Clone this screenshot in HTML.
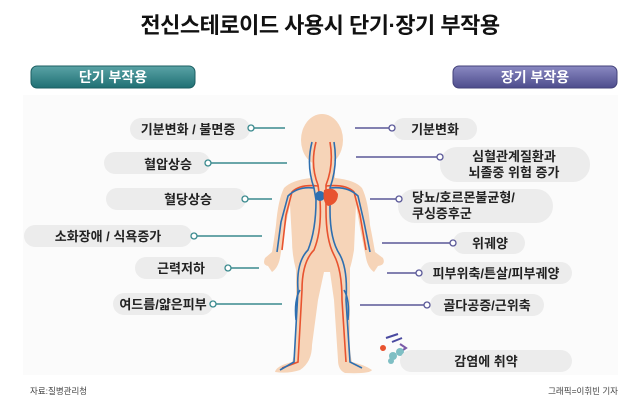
<!DOCTYPE html>
<html><head><meta charset="utf-8"><style>
html,body{margin:0;padding:0;background:#fff;}
body{width:640px;height:407px;overflow:hidden;font-family:"Liberation Sans","Noto Sans CJK KR",sans-serif;}
svg text{font-family:"Liberation Sans","Noto Sans CJK KR",sans-serif;}
</style></head><body>
<svg width="640" height="407" viewBox="0 0 640 407" xmlns="http://www.w3.org/2000/svg">
<defs>
<linearGradient id="tg" x1="0" y1="0" x2="0" y2="1"><stop offset="0" stop-color="#5aa3a6"/><stop offset="1" stop-color="#1f6f73"/></linearGradient>
<linearGradient id="pg" x1="0" y1="0" x2="0" y2="1"><stop offset="0" stop-color="#8a89c2"/><stop offset="1" stop-color="#4d4c8c"/></linearGradient>
</defs>
<rect x="0" y="0" width="640" height="407" fill="#fff"/>
<rect x="23" y="95" width="595" height="280" fill="#fbfbfb"/>
<text x="320" y="33" font-size="22" font-weight="bold" text-anchor="middle" fill="#111" letter-spacing="-0.5">전신스테로이드 사용시 단기·장기 부작용</text>
<rect x="31" y="66" width="164" height="22" rx="6" fill="url(#tg)" stroke="#1b5e62" stroke-width="1"/>
<text x="113" y="82" font-size="14" font-weight="bold" fill="#fff" text-anchor="middle">단기 부작용</text>
<rect x="453" y="66" width="164" height="22" rx="6" fill="url(#pg)" stroke="#43427a" stroke-width="1"/>
<text x="535" y="82" font-size="14" font-weight="bold" fill="#fff" text-anchor="middle">장기 부작용</text>

<g fill="#f6d4b8">
<ellipse cx="322" cy="140" rx="21" ry="26"/>
<path d="M312 160 L334 160 L335 178 Q355 180 362 188 Q368 200 370 225 Q373 240 375 252 L383 258 Q386 265 378 266 L374 272 Q368 268 366 258 L360 228 L356 205 L354 250 Q352 262 350 268 L350 330 Q349 350 352 362 Q365 365 372 370 Q370 374 345 373 Q338 370 338 360 L334 300 L330 272 L324 272 L318 300 L312 345 Q312 362 300 370 Q288 374 275 372 Q276 366 292 362 Q296 350 296 330 L296 270 Q292 255 292 240 L290 205 L285 228 L280 258 Q278 268 272 272 L268 266 Q262 265 265 258 L272 252 Q274 240 276 225 Q278 200 284 188 Q292 180 311 178 Z"/>
</g>
<g fill="none" stroke-width="1.6">
<path d="M316 142 Q310 165 318 185 L320 200 Q322 230 314 250 Q302 262 302 290 L298 362 L282 368" stroke="#e8532f"/>
<path d="M330 142 Q334 165 326 185 L326 210 Q326 240 334 255 Q342 270 342 300 L346 362" stroke="#e8532f"/>
<path d="M318 186 Q300 184 292 192 L286 215 L282 250" stroke="#e8532f"/>
<path d="M326 186 Q346 184 354 192 L360 215 L366 250" stroke="#e8532f"/>
<path d="M312 142 Q306 165 314 188 L316 200 Q316 230 308 250 Q296 262 298 290 L294 362 L280 370" stroke="#2e6fb0"/>
<path d="M334 142 Q338 165 330 188 L330 210 Q330 240 340 255 Q348 270 346 300 L350 362 L362 368" stroke="#2e6fb0"/>
<path d="M314 188 Q298 186 288 196 L281 222 L277 252" stroke="#2e6fb0"/>
<path d="M330 188 Q348 186 358 196 L364 222 L370 252" stroke="#2e6fb0"/>
<path d="M300 290 Q294 300 296 320" stroke="#2e6fb0"/>
<path d="M344 290 Q350 300 348 320" stroke="#2e6fb0"/>
</g>
<circle cx="320" cy="196" r="5" fill="#2e6fb0"/>
<path d="M324 190 Q334 186 338 194 Q338 204 328 206 Q322 202 324 190Z" fill="#e8532f"/>

<g>
<path d="M386 338 l12 -4 M392 342 l10 -4" stroke="#4a4aa0" stroke-width="2" fill="none"/>
<path d="M400 344 l6 4 l-6 4" stroke="#7a5aa8" stroke-width="2" fill="none"/>
<circle cx="383" cy="348" r="3" fill="#e8532f"/>
<circle cx="393" cy="356" r="4" fill="#7fbfc4"/><circle cx="400" cy="352" r="4" fill="#7fbfc4"/><circle cx="391" cy="361" r="3" fill="#7fbfc4"/>
</g>

<g stroke="#3a8a8e" stroke-width="1.5" fill="none">
<line x1="254" y1="128" x2="285" y2="128"/>
<line x1="211" y1="163" x2="287" y2="163"/>
<line x1="248" y1="199" x2="272" y2="199"/>
<line x1="197" y1="236" x2="262" y2="236"/>
<line x1="231" y1="268" x2="259" y2="268"/>
<line x1="216" y1="304" x2="282" y2="304"/>
</g>
<g fill="#ececec">
<rect x="130" y="118" width="120" height="22" rx="11"/>
<rect x="104" y="152" width="106" height="22" rx="11"/>
<rect x="106" y="188" width="140" height="22" rx="11"/>
<rect x="24" y="225" width="168" height="22" rx="11"/>
<rect x="135" y="257" width="93" height="22" rx="11"/>
<rect x="113" y="293" width="100" height="22" rx="11"/>
<rect x="393" y="118" width="84" height="22" rx="11"/>
<rect x="440" y="147" width="150" height="35" rx="17"/>
<rect x="398" y="189" width="155" height="34" rx="17"/>
<rect x="453" y="232" width="72" height="22" rx="11"/>
<rect x="420" y="262" width="152" height="22" rx="11"/>
<rect x="430" y="294" width="114" height="22" rx="11"/>
<rect x="400" y="350" width="172" height="22" rx="11"/>
</g>
<g fill="#fff" stroke="#3a8a8e" stroke-width="1.3">
<circle cx="251" cy="128" r="3"/><circle cx="208" cy="163" r="3"/><circle cx="245" cy="199" r="3"/><circle cx="194" cy="236" r="3"/><circle cx="228" cy="268" r="3"/><circle cx="213" cy="304" r="3"/>
</g>
<g stroke="#5a5898" stroke-width="1.5" fill="none">
<line x1="355" y1="128" x2="389" y2="128"/>
<line x1="356" y1="157" x2="437" y2="157"/>
<line x1="370" y1="199" x2="396" y2="199"/>
<line x1="382" y1="243" x2="450" y2="243"/>
<line x1="387" y1="273" x2="416" y2="273"/>
<line x1="360" y1="305" x2="424" y2="305"/>
</g>
<g fill="#fff" stroke="#5a5898" stroke-width="1.3">
<circle cx="392" cy="128" r="3"/><circle cx="440" cy="157" r="3"/><circle cx="399" cy="199" r="3"/><circle cx="453" cy="243" r="3"/><circle cx="419" cy="273" r="3"/><circle cx="427" cy="305" r="3"/>
</g>
<g font-size="13" font-weight="bold" fill="#222" text-anchor="middle">
<text x="188" y="134">기분변화 / 불면증</text>
<text x="168" y="169">혈압상승</text>
<text x="188" y="204">혈당상승</text>
<text x="108" y="241">소화장애 / 식욕증가</text>
<text x="181" y="273">근력저하</text>
<text x="163" y="309">여드름/얇은피부</text>
<text x="435" y="134">기분변화</text>
<text x="514" y="161">심혈관계질환과</text>
<text x="514" y="177">뇌졸중 위험 증가</text>
<text x="412" y="202" text-anchor="start">당뇨/호르몬불균형/</text>
<text x="412" y="218" text-anchor="start">쿠싱증후군</text>
<text x="490" y="248">위궤양</text>
<text x="496" y="278">피부위축/튼살/피부궤양</text>
<text x="487" y="310">골다공증/근위축</text>
<text x="486" y="366">감염에 취약</text>
</g>
<text x="30" y="394" font-size="8.5" fill="#444">자료:질병관리청</text>
<text x="618" y="394" font-size="8.5" fill="#444" text-anchor="end">그래픽=이휘빈 기자</text>
</svg>
</body></html>
